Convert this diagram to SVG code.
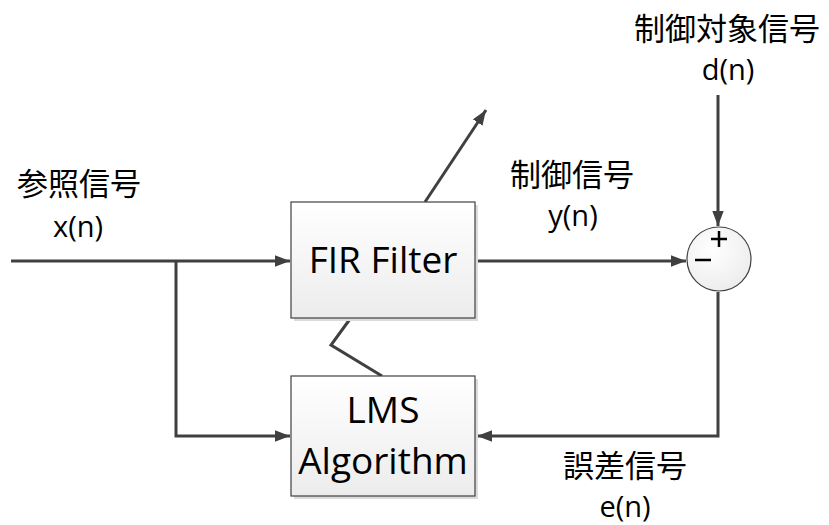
<svg xmlns="http://www.w3.org/2000/svg" width="829" height="525" viewBox="0 0 829 525">
  <defs>
    <linearGradient id="boxFill" x1="0" y1="0" x2="0" y2="1">
      <stop offset="0" stop-color="#ffffff"/>
      <stop offset="1" stop-color="#ececec"/>
    </linearGradient>
    <radialGradient id="sumFill" cx="0.4" cy="0.35" r="0.7">
      <stop offset="0" stop-color="#ffffff"/>
      <stop offset="1" stop-color="#ececec"/>
    </radialGradient>
    <marker id="arrow" viewBox="0 0 10 10" refX="10" refY="5" markerWidth="5" markerHeight="3.8" markerUnits="strokeWidth" orient="auto" preserveAspectRatio="none">
      <path d="M0,0 L10,5 L0,10 z" fill="#404040"/>
    </marker>
  </defs>
  <style>
    .box { fill: url(#boxFill); stroke: #404040; stroke-width: 1.2; }
    .shadow { fill: #dcdcdc; }
    .wire { fill: none; stroke: #404040; stroke-width: 3; }
    .jp { font-family: "Noto Sans CJK JP", sans-serif; font-size: 31px; fill: #000; text-anchor: middle; }
    .sym { font-family: "Open Sans", "Liberation Sans", sans-serif; font-size: 29px; fill: #000; text-anchor: middle; }
    .blk { font-family: "Open Sans", "Liberation Sans", sans-serif; font-size: 37px; fill: #000; text-anchor: middle; }
    .sign { stroke: #000; stroke-width: 2.5; }
  </style>

  <!-- connectors -->
  <g id="connectors">
    <path class="wire" d="M11,261 H290" marker-end="url(#arrow)"/>
    <path class="wire" d="M176,261 V436 H290" marker-end="url(#arrow)"/>
    <path class="wire" d="M476,261 H686" marker-end="url(#arrow)"/>
    <path class="wire" d="M718,95 V226" marker-end="url(#arrow)"/>
    <path class="wire" d="M718,292 V436 H477" marker-end="url(#arrow)"/>
    <path class="wire" d="M425,202 L486,110" marker-end="url(#arrow)"/>
    <path class="wire" d="M350,319 L331,345 L382,376"/>
  </g>

  <!-- FIR filter block -->
  <g id="fir">
    <rect class="shadow" x="294" y="205" width="184" height="116"/>
    <rect class="box" x="291" y="202" width="184" height="116"/>
    <text class="blk" x="383" y="273">FIR Filter</text>
  </g>

  <!-- LMS block -->
  <g id="lms">
    <rect class="shadow" x="294" y="379" width="184" height="120"/>
    <rect class="box" x="291" y="376" width="184" height="120"/>
    <text class="blk" x="383" y="423">LMS</text>
    <text class="blk" x="383" y="474">Algorithm</text>
  </g>

  <!-- summing junction -->
  <g id="sum">
    <circle cx="719" cy="259" r="32" fill="url(#sumFill)" stroke="#404040" stroke-width="1.2"/>
    <line class="sign" x1="711" y1="239" x2="727" y2="239"/>
    <line class="sign" x1="719" y1="231" x2="719" y2="247"/>
    <line class="sign" x1="695" y1="260" x2="711" y2="260"/>
  </g>

  <!-- signal labels -->
  <g id="labels">
    <text class="jp" x="727" y="40">制御対象信号</text>
    <text class="sym" x="728" y="80">d(n)</text>
    <text class="jp" x="79" y="195">参照信号</text>
    <text class="sym" x="78" y="237">x(n)</text>
    <text class="jp" x="572" y="186">制御信号</text>
    <text class="sym" x="573" y="226">y(n)</text>
    <text class="jp" x="625" y="477">誤差信号</text>
    <text class="sym" x="625" y="517">e(n)</text>
  </g>
</svg>
